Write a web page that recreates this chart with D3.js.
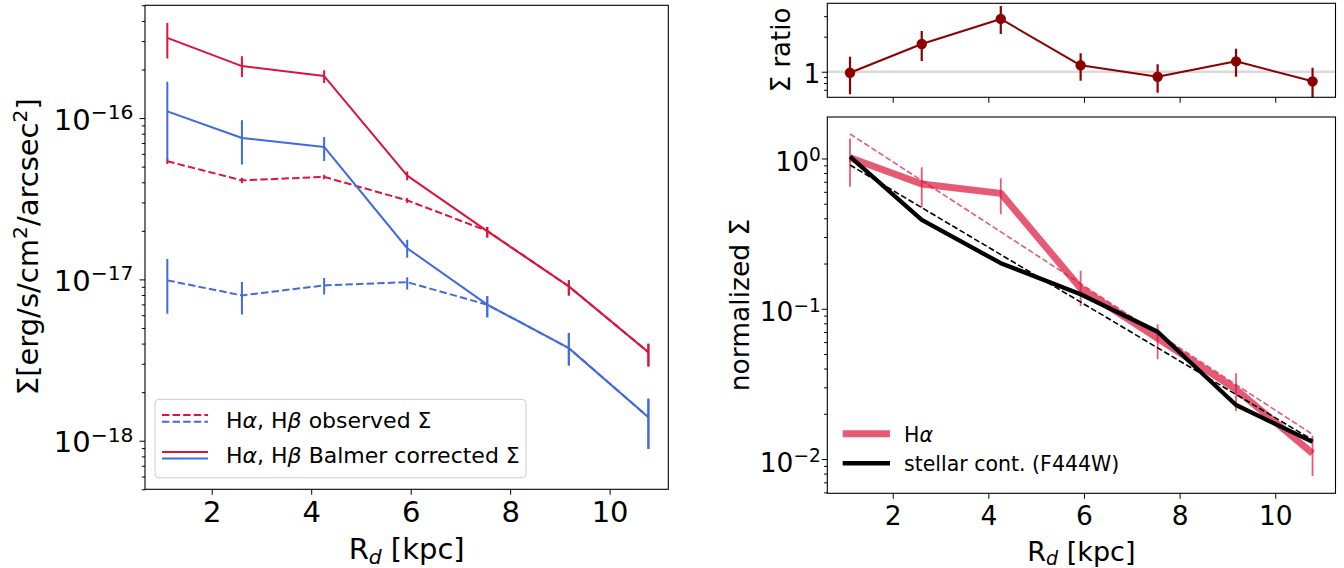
<!DOCTYPE html>
<html><head><meta charset="utf-8">
<script src="https://cdn.jsdelivr.net/npm/d3@7"></script>
<style>
body{margin:0;background:#fff}
svg{display:block}
text{font-family:"DejaVu Sans",sans-serif;fill:#000}
</style>
</head><body>
<svg id="c" width="1344" height="568"></svg>
<script>
// ---------------- DATA ----------------
const R = [1.107, 2.607, 4.26, 5.93, 7.54, 9.18, 10.78];           // R_d [kpc]
const xTicks = [2, 4, 6, 8, 10];

// left panel: surface brightness [erg/s/cm2/arcsec2]
const haObs    = [5.4e-17, 4.11e-17, 4.32e-17, 3.09e-17, 2.0e-17, 9.05e-18, 3.54e-18];
const haObsLo  = [5.2e-17, 3.95e-17, 4.18e-17, 2.98e-17, 1.82e-17, 7.96e-18, 2.88e-18];
const haObsHi  = [5.6e-17, 4.27e-17, 4.46e-17, 3.2e-17, 2.11e-17, 9.87e-18, 3.99e-18];
const hbObs    = [9.86e-18, 7.96e-18, 9.18e-18, 9.62e-18, 6.97e-18, 3.75e-18, 1.40e-18];
const hbObsLo  = [6.12e-18, 6.07e-18, 8.07e-18, 8.67e-18, 5.83e-18, 2.93e-18, 8.9e-19];
const hbObsHi  = [1.34e-17, 9.62e-18, 1.02e-17, 1.03e-17, 7.87e-18, 4.65e-18, 1.82e-18];
const haCorr   = [3.14e-16, 2.10e-16, 1.82e-16, 4.40e-17, 1.99e-17, 9.05e-18, 3.54e-18];
const haCorrLo = [2.34e-16, 1.80e-16, 1.65e-16, 4.11e-17, 1.82e-17, 7.96e-18, 2.88e-18];
const haCorrHi = [3.89e-16, 2.42e-16, 1.98e-16, 4.66e-17, 2.11e-17, 9.87e-18, 3.99e-18];
const hbCorr   = [1.10e-16, 7.53e-17, 6.62e-17, 1.56e-17, 6.97e-18, 3.75e-18, 1.40e-18];
const hbCorrLo = [5.47e-17, 5.16e-17, 5.42e-17, 1.36e-17, 5.83e-18, 2.93e-18, 8.9e-19];
const hbCorrHi = [1.68e-16, 9.7e-17, 7.64e-17, 1.76e-17, 7.87e-18, 4.65e-18, 1.82e-18];
const yTicksL = [1e-18, 1e-17, 1e-16];

// right top: Sigma ratio
const ratio   = [0.98, 1.73, 2.84, 1.135, 0.906, 1.228, 0.827];
const ratioLo = [0.64, 1.236, 2.11, 0.837, 0.66, 0.906, 0.58];
const ratioHi = [1.346, 2.24, 3.67, 1.44, 1.158, 1.577, 1.082];
const yTicksRatio = [1];
const yMinorRatio = [0.7, 0.8, 0.9, 2, 3];

// right bottom: normalized Sigma
const haNorm   = [1.01, 0.676, 0.586, 0.137, 0.0636, 0.0291, 0.0109];
const haNormLo = [0.65, 0.471, 0.425, 0.104, 0.0461, 0.0209, 0.0077];
const haNormHi = [1.36, 0.874, 0.738, 0.179, 0.0788, 0.0372, 0.0143];
const stellar  = [1.03, 0.39, 0.201, 0.125, 0.0703, 0.0229, 0.013];
const fitX       = [1.107, 10.78];
const fitHa      = [1.456, 0.0146];
const fitStellar = [0.905, 0.0134];
const yTicksN = [1e-2, 1e-1, 1];

// legends
const legendLeft = ["observed", "Balmer corrected"];
const legendRight = ["stellar cont. (F444W)"];

// ---------------- DRAW ----------------
const svg = d3.select('#c');
const RED = '#dc143c', BLUE = '#4169e1', DARKRED = '#8b0000';

function minorLog(dom){
  const out=[]; const lo=Math.floor(Math.log10(dom[0])), hi=Math.ceil(Math.log10(dom[1]));
  for(let e=lo;e<=hi;e++) for(let m=2;m<=9;m++){const v=m*Math.pow(10,e); if(v>=dom[0]&&v<=dom[1]) out.push(v);}
  return out;
}
function pow10(t, d, fs){
  const k=Math.round(Math.log10(d));
  t.text(null);
  t.append('tspan').text('10');
  t.append('tspan').attr('font-size', fs*0.7).attr('dy', -0.37*fs).text(k<0?'\u2212'+(-k):String(k));
}
function styleAxis(g){
  g.attr('font-family',null).attr('font-size',null);
  g.select('.domain').remove();
  g.selectAll('.tick line').attr('stroke','#000').attr('stroke-width',1);
}
function clip(id, P){
  svg.append('clipPath').attr('id',id).append('rect')
    .attr('x',P.x0).attr('y',P.y0).attr('width',P.x1-P.x0).attr('height',P.y1-P.y0);
}
function frame(P){
  svg.append('rect').attr('x',P.x0).attr('y',P.y0).attr('width',P.x1-P.x0).attr('height',P.y1-P.y0)
    .attr('fill','none').attr('stroke','#000').attr('stroke-width',1.1);
}
function xAxis(P, x, fs, labels){
  const g=svg.append('g').attr('transform',`translate(0,${P.y1})`)
    .call(d3.axisBottom(x).tickValues(xTicks).tickSize(5.5).tickPadding(7).tickFormat(labels?d3.format('d'):()=>''));
  styleAxis(g);
  g.selectAll('.tick text').attr('font-size',fs).attr('fill','#000');
}
function yLogAxis(P, y, majors, fs, padTot, dyEm, minors, plain){
  const gmin=svg.append('g').attr('transform',`translate(${P.x0},0)`)
    .call(d3.axisLeft(y).tickValues(minors).tickSize(3.2).tickFormat(()=>''));
  styleAxis(gmin);
  const gmaj=svg.append('g').attr('transform',`translate(${P.x0},0)`)
    .call(d3.axisLeft(y).tickValues(majors).tickSize(5.5).tickPadding(padTot-5.5).tickFormat(d=>String(d)));
  styleAxis(gmaj);
  gmaj.selectAll('.tick text').attr('font-size',fs).attr('fill','#000').attr('dy',dyEm+'em')
    .each(function(d){ if(!plain) pow10(d3.select(this), d, fs); });
}
function errbars(g, xs, lo, hi, x, y, color, w, op){
  g.selectAll(null).data(xs).enter().append('line')
    .attr('x1',(d)=>x(d)).attr('x2',(d)=>x(d))
    .attr('y1',(d,i)=>y(lo[i])).attr('y2',(d,i)=>y(hi[i]))
    .attr('stroke',color).attr('stroke-width',w).attr('stroke-opacity',op||1);
}
function path(g, xs, ys, x, y, color, w, dash, op){
  const line=d3.line().x((d,i)=>x(xs[i])).y(d=>y(d));
  g.append('path').attr('d',line(ys)).attr('fill','none').attr('stroke',color)
    .attr('stroke-width',w).attr('stroke-dasharray',dash||null).attr('stroke-opacity',op||1)
    .attr('stroke-linejoin','round');
}

// ===== LEFT PANEL =====
const PL={x0:145,x1:668.3,y0:5.3,y1:489.3};
const xL=d3.scaleLinear().domain([0.658,11.18]).range([PL.x0,PL.x1]);
const yL=d3.scaleLog().domain([5e-19,5e-16]).range([PL.y1,PL.y0]);
clip('cL',PL);
const gL=svg.append('g').attr('clip-path','url(#cL)');
const DASH='7.4,3.2';
errbars(gL,R,haObsLo,haObsHi,xL,yL,RED,2); path(gL,R,haObs,xL,yL,RED,2,DASH);
errbars(gL,R,hbObsLo,hbObsHi,xL,yL,BLUE,2); path(gL,R,hbObs,xL,yL,BLUE,2,DASH);
errbars(gL,R,haCorrLo,haCorrHi,xL,yL,RED,2); path(gL,R,haCorr,xL,yL,RED,2);
errbars(gL,R,hbCorrLo,hbCorrHi,xL,yL,BLUE,2); path(gL,R,hbCorr,xL,yL,BLUE,2);
xAxis(PL,xL,29,true);
yLogAxis(PL,yL,yTicksL,29,11.5,0.385,minorLog(yL.domain()));
frame(PL);
// legend
const lg=svg.append('g');
lg.append('rect').attr('x',155).attr('y',399.3).attr('width',371).attr('height',78.5).attr('rx',4)
  .attr('fill','#fff').attr('fill-opacity',0.8).attr('stroke','#cccccc').attr('stroke-width',1);
[[415,421.7,DASH,427.5],[451.9,458.5,null,463]].forEach((r,i)=>{
  lg.append('line').attr('x1',162).attr('x2',208).attr('y1',r[0]).attr('y2',r[0]).attr('stroke',RED).attr('stroke-width',2).attr('stroke-dasharray',r[2]);
  lg.append('line').attr('x1',162).attr('x2',208).attr('y1',r[1]).attr('y2',r[1]).attr('stroke',BLUE).attr('stroke-width',2).attr('stroke-dasharray',r[2]);
  const t=lg.append('text').attr('x',226).attr('y',r[3]).attr('font-size',22);
  t.append('tspan').text('H'); t.append('tspan').attr('font-style','italic').text('\u03b1');
  t.append('tspan').text(', H'); t.append('tspan').attr('font-style','italic').text('\u03b2');
  t.append('tspan').text(' '+legendLeft[i]+' \u03a3');
});
// labels
const xl=svg.append('text').attr('x',(PL.x0+PL.x1)/2).attr('y',559.3).attr('text-anchor','middle').attr('font-size',29);
xl.append('tspan').text('R'); xl.append('tspan').attr('font-style','italic').attr('font-size',20.3).attr('dy',4.5).text('d');
xl.append('tspan').attr('dy',-4.5).text(' [kpc]');
const yl=svg.append('text').attr('transform','translate(38,246.7) rotate(-90)').attr('text-anchor','middle').attr('font-size',29);
yl.append('tspan').text('\u03a3[erg/s/cm');
yl.append('tspan').attr('font-size',20.3).attr('dy',-11).text('2');
yl.append('tspan').attr('dy',11).text('/arcsec');
yl.append('tspan').attr('font-size',20.3).attr('dy',-11).text('2');
yl.append('tspan').attr('dy',11).text(']');

// ===== RIGHT TOP =====
const PT={x0:827.3,x1:1335.5,y0:3.3,y1:97.3};
const xR=d3.scaleLinear().domain([0.632,11.26]).range([PT.x0,PT.x1]);
const yT=d3.scaleLog().domain([0.603,3.87]).range([PT.y1,PT.y0]);
clip('cT',PT);
const gT=svg.append('g').attr('clip-path','url(#cT)');
gT.append('line').attr('x1',PT.x0).attr('x2',PT.x1).attr('y1',yT(1)).attr('y2',yT(1)).attr('stroke','#d9d9d9').attr('stroke-width',2.5);
errbars(gT,R,ratioLo,ratioHi,xR,yT,DARKRED,2.2);
path(gT,R,ratio,xR,yT,DARKRED,2);
gT.selectAll(null).data(ratio).enter().append('circle').attr('cx',(d,i)=>xR(R[i])).attr('cy',d=>yT(d)).attr('r',5.2).attr('fill',DARKRED);
xAxis(PT,xR,26.5,false);
yLogAxis(PT,yT,yTicksRatio,26.5,7,0.39,yMinorRatio,true);
frame(PT);
svg.append('text').attr('transform','translate(790,50) rotate(-90)').attr('text-anchor','middle').attr('font-size',26).text('\u03a3 ratio');

// ===== RIGHT BOTTOM =====
const PB={x0:827.3,x1:1335.5,y0:117,y1:493.3};
const yB=d3.scaleLog().domain([Math.pow(10,-2.228),Math.pow(10,0.276)]).range([PB.y1,PB.y0]);
clip('cB',PB);
const gB=svg.append('g').attr('clip-path','url(#cB)');
path(gB,R,haNorm,xR,yB,RED,7,null,0.7);
errbars(gB,R,haNormLo,haNormHi,xR,yB,RED,1.8,0.7);
path(gB,fitX,fitHa,xR,yB,RED,1.6,'5.9,2.6',0.7);
path(gB,R,stellar,xR,yB,'#000',4.3);
path(gB,fitX,fitStellar,xR,yB,'#000',1.6,'5.9,2.6');
xAxis(PB,xR,26.5,true);
yLogAxis(PB,yB,yTicksN,26.5,6.5,0.46,minorLog(yB.domain()));
frame(PB);
const xl2=svg.append('text').attr('x',(PB.x0+PB.x1)/2).attr('y',560.7).attr('text-anchor','middle').attr('font-size',27);
xl2.append('tspan').text('R'); xl2.append('tspan').attr('font-style','italic').attr('font-size',19).attr('dy',4.2).text('d');
xl2.append('tspan').attr('dy',-4.2).text(' [kpc]');
svg.append('text').attr('transform','translate(749,305) rotate(-90)').attr('text-anchor','middle').attr('font-size',26.5).text('normalized \u03a3');
// legend right
const lr=svg.append('g');
lr.append('line').attr('x1',842.7).attr('x2',890).attr('y1',433.7).attr('y2',433.7).attr('stroke',RED).attr('stroke-opacity',0.7).attr('stroke-width',7);
lr.append('line').attr('x1',842.7).attr('x2',890).attr('y1',463.3).attr('y2',463.3).attr('stroke','#000').attr('stroke-width',4.5);
const th=lr.append('text').attr('x',904).attr('y',441.5).attr('font-size',20.5);
th.append('tspan').text('H'); th.append('tspan').attr('font-style','italic').text('\u03b1');
lr.append('text').attr('x',904).attr('y',470.8).attr('font-size',20.5).text(legendRight[0]);
</script>
</body></html>
